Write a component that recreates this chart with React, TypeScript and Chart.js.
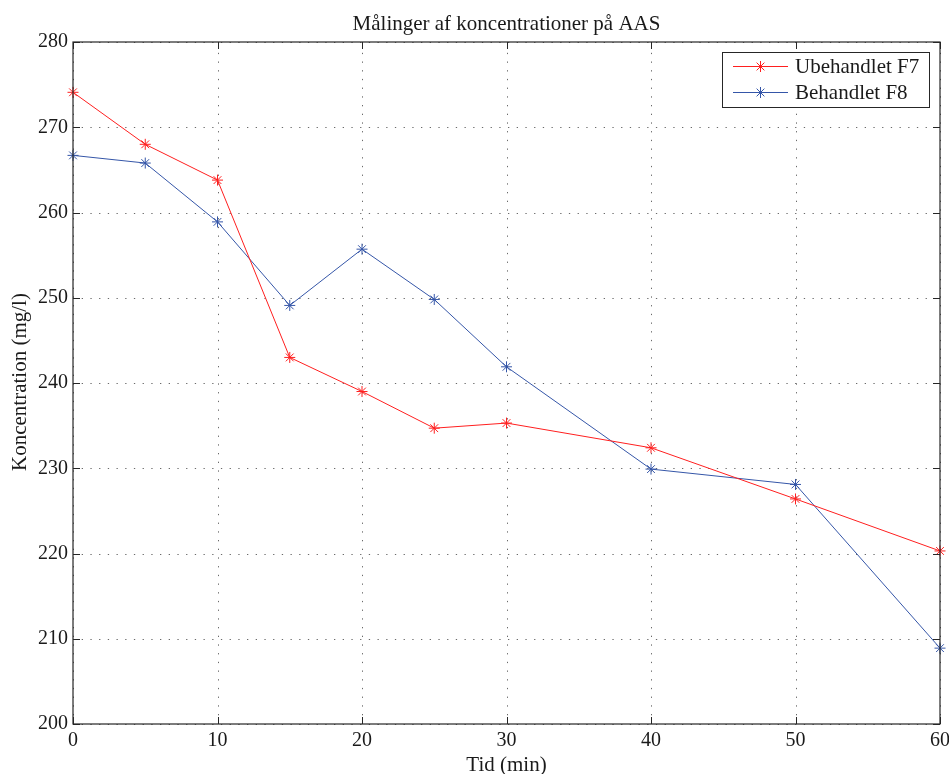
import React, { useEffect, useRef } from "react";
import { Chart, registerables } from "chart.js";

Chart.register(...registerables);

const timeMin = [0, 5, 10, 15, 20, 25, 30, 40, 50, 60];
const ubehandletF7 = [274.1, 268.0, 263.8, 243.0, 239.0, 234.7, 235.3, 232.4, 226.4, 220.3];
const behandletF8 = [266.7, 265.8, 258.9, 249.1, 255.7, 249.8, 241.9, 229.9, 228.1, 208.9];
const xTicks = [0, 10, 20, 30, 40, 50, 60];
const yTicks = [200, 210, 220, 230, 240, 250, 260, 270, 280];

const seriesNames = ["Ubehandlet F7", "Behandlet F8"];
const seriesColors = ["#ff1f1f", "#3556a8"];

const FONT = "'Liberation Serif', serif";
const FS_TICK = 20;
const FS_TEXT = 21;

function drawStar(ctx: CanvasRenderingContext2D, x: number, y: number, r: number, color: string) {
  ctx.save();
  ctx.strokeStyle = color;
  ctx.lineWidth = 1;
  ctx.setLineDash([]);
  ctx.beginPath();
  ctx.moveTo(x - r, y); ctx.lineTo(x + r, y);
  ctx.moveTo(x, y - r); ctx.lineTo(x, y + r);
  const d = r * 0.707;
  ctx.moveTo(x - d, y - d); ctx.lineTo(x + d, y + d);
  ctx.moveTo(x - d, y + d); ctx.lineTo(x + d, y - d);
  ctx.stroke();
  ctx.restore();
}

const matlabPlugin = {
  id: "matlabStyle",
  beforeDatasetsDraw(chart: any) {
    const { ctx, chartArea: a, scales } = chart;
    ctx.save();
    ctx.strokeStyle = "#6a6a6a";
    ctx.lineWidth = 1;
    ctx.setLineDash([1.3, 7.4]);
    xTicks.forEach((t) => {
      const px = Math.round(scales.x.getPixelForValue(t)) + 0.5;
      ctx.beginPath(); ctx.moveTo(px, a.bottom); ctx.lineTo(px, a.top); ctx.stroke();
    });
    yTicks.forEach((t) => {
      const py = Math.round(scales.y.getPixelForValue(t)) + 0.5;
      ctx.beginPath(); ctx.moveTo(a.left, py); ctx.lineTo(a.right, py); ctx.stroke();
    });
    ctx.restore();
  },
  afterDatasetsDraw(chart: any) {
    const { ctx, chartArea: a, scales } = chart;
    ctx.save();
    ctx.setLineDash([]);
    ctx.strokeStyle = "#262626";
    ctx.lineWidth = 1.2;
    ctx.strokeRect(a.left, a.top, a.right - a.left, a.bottom - a.top);
    const tl = 7;
    ctx.lineWidth = 1;
    ctx.beginPath();
    xTicks.forEach((t) => {
      const px = Math.round(scales.x.getPixelForValue(t)) + 0.5;
      ctx.moveTo(px, a.bottom); ctx.lineTo(px, a.bottom - tl);
      ctx.moveTo(px, a.top); ctx.lineTo(px, a.top + tl);
    });
    yTicks.forEach((t) => {
      const py = Math.round(scales.y.getPixelForValue(t)) + 0.5;
      ctx.moveTo(a.left, py); ctx.lineTo(a.left + tl, py);
      ctx.moveTo(a.right, py); ctx.lineTo(a.right - tl, py);
    });
    ctx.stroke();

    // titles
    ctx.fillStyle = "#1a1a1a";
    ctx.font = `${FS_TEXT}px ${FONT}`;
    ctx.textAlign = "center";
    ctx.textBaseline = "alphabetic";
    const cx = (a.left + a.right) / 2;
    ctx.fillText("Målinger af koncentrationer på AAS", cx, 30);
    ctx.fillText("Tid (min)", cx, 771);
    ctx.save();
    ctx.translate(26, (a.top + a.bottom) / 2 - 1);
    ctx.rotate(-Math.PI / 2);
    ctx.fillText("Koncentration (mg/l)", 0, 0);
    ctx.restore();

    // legend
    const lx = 722, ly = 52, lw = 207, lh = 55;
    ctx.fillStyle = "#ffffff";
    ctx.fillRect(lx, ly, lw, lh);
    ctx.strokeStyle = "#262626";
    ctx.lineWidth = 1;
    ctx.strokeRect(lx + 0.5, ly + 0.5, lw, lh);
    seriesNames.forEach((name, i) => {
      const yy = 66.5 + i * 26;
      ctx.strokeStyle = seriesColors[i];
      ctx.lineWidth = 1;
      ctx.beginPath(); ctx.moveTo(733, yy); ctx.lineTo(788, yy); ctx.stroke();
      drawStar(ctx, 760.5, yy, 5.5, seriesColors[i]);
      ctx.fillStyle = "#1a1a1a";
      ctx.textAlign = "left";
      ctx.textBaseline = "middle";
      ctx.fillText(name, 795, yy + 1);
    });
    ctx.restore();
  },
};

export default function App() {
  const ref = useRef<HTMLCanvasElement | null>(null);
  useEffect(() => {
    if (!ref.current) return;
    const mk = (vals: number[]) => timeMin.map((x, i) => ({ x, y: vals[i] }));
    const chart = new Chart(ref.current, {
      type: "line",
      data: {
        datasets: [ubehandletF7, behandletF8].map((vals, i) => ({
          label: seriesNames[i],
          data: mk(vals),
          borderColor: seriesColors[i],
          backgroundColor: seriesColors[i],
          borderWidth: 1,
          pointStyle: "star",
          pointRadius: 5.5,
          pointBorderWidth: 1,
          pointBorderColor: seriesColors[i],
          tension: 0,
          fill: false,
          clip: false as any,
        })),
      },
      options: {
        animation: false,
        responsive: false,
        devicePixelRatio: 1,
        layout: { padding: { top: 42, right: 9, bottom: 0, left: 0 } },
        plugins: { legend: { display: false }, title: { display: false }, tooltip: { enabled: false } },
        scales: {
          x: {
            type: "linear",
            min: 0,
            max: 60,
            afterBuildTicks: (s: any) => { s.ticks = xTicks.map((v) => ({ value: v })); },
            afterFit: (s: any) => { s.height = 50; s.paddingLeft = 0; s.paddingRight = 0; },
            grid: { display: false, drawTicks: false },
            border: { display: false },
            ticks: { color: "#1a1a1a", font: { family: FONT, size: FS_TICK }, padding: 5, maxRotation: 0, autoSkip: false },
          },
          y: {
            type: "linear",
            min: 200,
            max: 280,
            afterBuildTicks: (s: any) => { s.ticks = yTicks.map((v) => ({ value: v })); },
            afterFit: (s: any) => { s.width = 73; s.paddingTop = 0; s.paddingBottom = 0; },
            grid: { display: false, drawTicks: false },
            border: { display: false },
            ticks: { color: "#1a1a1a", font: { family: FONT, size: FS_TICK }, padding: 5, autoSkip: false },
          },
        },
      },
      plugins: [matlabPlugin],
    });
    return () => chart.destroy();
  }, []);
  return (
    <div style={{ position: "fixed", left: 0, top: 0, width: 949, height: 774, background: "#fff" }}>
      <canvas ref={ref} width={949} height={774} style={{ width: 949, height: 774 }} />
    </div>
  );
}
